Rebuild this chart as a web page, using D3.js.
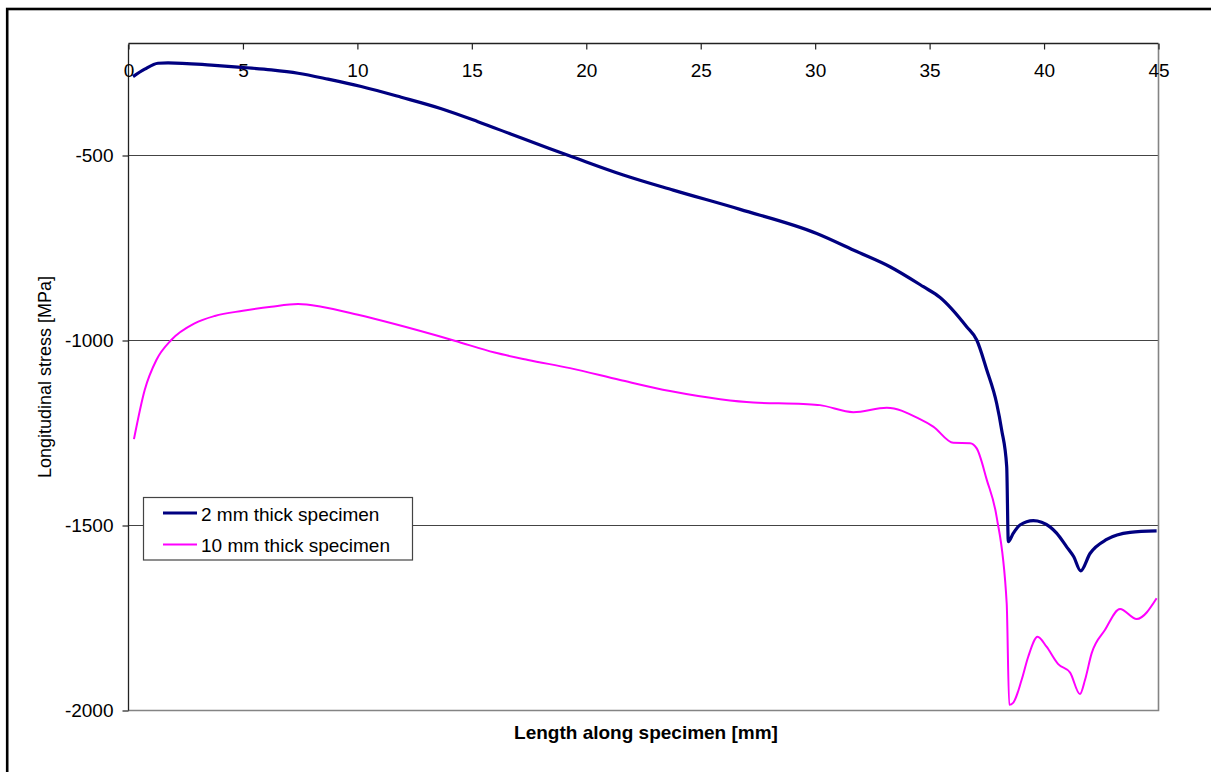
<!DOCTYPE html>
<html>
<head>
<meta charset="utf-8">
<script src="https://cdn.jsdelivr.net/npm/d3@7"></script>
<style>
  html, body { margin: 0; padding: 0; background: #fff; }
  svg { display: block; }
  text { font-family: "Liberation Sans", Arial, sans-serif; fill: #000; }
</style>
</head>
<body>
<svg id="chart" width="1211" height="772"></svg>
<script>
// Length along specimen [mm] and longitudinal stress [MPa]
const thin2mmX = [0.22, 0.73, 1.31, 1.75, 3.64, 4.95, 6.26, 7.43, 8.74, 10.19, 11.94, 13.69, 15.29, 16.75,
  18.35, 19.46, 21.64, 23.82, 26.74, 30.09, 31.84, 33.29, 34.75, 35.48, 36.64, 37.08, 37.52,
  37.95, 38.17, 38.39, 38.46, 38.68, 38.97, 39.55, 40.28, 40.57, 41.01, 41.32, 41.62, 42.03, 42.76, 43.78, 44.94];
const thin2mmY = [-288, -268, -252, -251, -257, -263, -270, -279, -295, -315, -344, -375, -410, -444,
  -481, -506, -554, -595, -647, -712, -761, -802, -856, -885, -964, -1000, -1081,
  -1171, -1243, -1342, -1545, -1522, -1500, -1488, -1505, -1522, -1559, -1586, -1624, -1577, -1539, -1520, -1516];

const thick10mmX = [0.26, 0.73, 1.24, 1.89, 2.91, 3.79, 5.02, 6.26, 7.43, 8.45, 10.05, 11.65, 14.27, 16.02,
  17.48, 19.31, 21.5, 23.68, 25.87, 27.32, 29.5, 30.23, 31.69, 33.15, 34.6, 35.18, 36.06, 36.79,
  37.08, 37.52, 37.95, 38.39, 38.5, 38.68, 39.04, 39.33, 39.74, 40.13, 40.64, 41.16, 41.59, 41.81,
  42.1, 42.68, 43.34, 44.07, 44.94];
const thick10mmY = [-1268, -1135, -1054, -1000, -955, -935, -921, -910, -903, -910, -932, -957, -1002, -1034,
  -1054, -1076, -1108, -1138, -1160, -1169, -1173, -1176, -1195, -1183, -1214, -1234, -1278, -1279,
  -1293, -1378, -1478, -1712, -1986, -1980, -1919, -1856, -1802, -1829, -1876, -1899, -1957, -1919,
  -1847, -1784, -1727, -1754, -1698];

const seriesNames = ["2 mm thick specimen", "10 mm thick specimen"];
const xTicks = [0, 5, 10, 15, 20, 25, 30, 35, 40, 45];
const yTicks = [-500, -1000, -1500, -2000];

const svg = d3.select("#chart");

// outer chart frame
svg.append("rect")
  .attr("x", 7.2).attr("y", 9).attr("width", 1220).attr("height", 790)
  .attr("fill", "none").attr("stroke", "#000").attr("stroke-width", 2.6);

const plot = { left: 128, top: 44, right: 1158, bottom: 710 };
const x = d3.scaleLinear().domain([0, 45]).range([plot.left, plot.right]);
const y = d3.scaleLinear().domain([-2000, -200]).range([plot.bottom, plot.top]);

// plain hyphen-minus labels
const plainNumber = d => String(d);

// horizontal gridlines
svg.append("g")
  .selectAll("line")
  .data(yTicks.filter(d => d !== -2000))
  .join("line")
  .attr("x1", plot.left).attr("x2", plot.right)
  .attr("y1", d => y(d) + 0.5).attr("y2", d => y(d) + 0.5)
  .attr("stroke", "#444").attr("stroke-width", 1.2);

// plot-area border on the right and bottom
svg.append("path")
  .attr("d", `M${plot.right + 0.5},${plot.top}V${plot.bottom + 0.5}H${plot.left}`)
  .attr("fill", "none").attr("stroke", "#848484").attr("stroke-width", 1.6);

// y axis
const yAxis = svg.append("g")
  .attr("transform", `translate(${plot.left + 0.5},0.5)`)
  .call(d3.axisLeft(y).tickValues(yTicks).tickSize(6).tickPadding(9).tickFormat(plainNumber));
yAxis.select(".domain").attr("d", `M0,${plot.top}V${plot.bottom}`).attr("stroke", "#222").attr("stroke-width", 1.3);
yAxis.selectAll(".tick line").attr("stroke", "#222").attr("stroke-width", 1.2);
yAxis.selectAll(".tick text").style("font-size", "19px").attr("fill", "#000")
  .style("font-family", "'Liberation Sans', Arial, sans-serif");

// x axis along the top edge, ticks pointing into the plot
const xAxis = svg.append("g")
  .attr("transform", `translate(0.5,${plot.top - 0.5})`)
  .call(d3.axisBottom(x).tickValues(xTicks).tickSize(6).tickPadding(14).tickFormat(plainNumber));
xAxis.select(".domain").attr("d", `M${plot.left},0H${plot.right}`).attr("stroke", "#222").attr("stroke-width", 1.3);
xAxis.selectAll(".tick line").attr("stroke", "#222").attr("stroke-width", 1.2);
xAxis.selectAll(".tick text").style("font-size", "19px").attr("fill", "#000")
  .style("font-family", "'Liberation Sans', Arial, sans-serif");

// series lines
const line = d3.line().x(d => x(d[0])).y(d => y(d[1])).curve(d3.curveMonotoneX);
const thinPts = thin2mmX.map((v, i) => [v, thin2mmY[i]]);
const thickPts = thick10mmX.map((v, i) => [v, thick10mmY[i]]);

svg.append("path").datum(thickPts)
  .attr("d", line).attr("fill", "none")
  .attr("stroke", "#ff00ff").attr("stroke-width", 2).attr("stroke-linejoin", "round");
svg.append("path").datum(thinPts)
  .attr("d", line).attr("fill", "none")
  .attr("stroke", "#000080").attr("stroke-width", 3.2).attr("stroke-linejoin", "round");

// axis titles
svg.append("text")
  .attr("transform", "translate(50.5,377) rotate(-90)")
  .attr("text-anchor", "middle")
  .style("font-size", "18px")
  .text("Longitudinal stress [MPa]");
svg.append("text")
  .attr("x", 646).attr("y", 739)
  .attr("text-anchor", "middle")
  .style("font-size", "19px").style("font-weight", "bold")
  .text("Length along specimen [mm]");

// legend
const legend = svg.append("g");
legend.append("rect")
  .attr("x", 143.5).attr("y", 497.5).attr("width", 269).attr("height", 62.5)
  .attr("fill", "#fff").attr("stroke", "#444").attr("stroke-width", 1.2);
const legendColors = ["#000080", "#ff00ff"];
const legendWidths = [3.2, 2];
const legendRows = [513, 544.5];
seriesNames.forEach((name, i) => {
  legend.append("line")
    .attr("x1", 163).attr("x2", 197)
    .attr("y1", legendRows[i]).attr("y2", legendRows[i])
    .attr("stroke", legendColors[i]).attr("stroke-width", legendWidths[i]);
  legend.append("text")
    .attr("x", 201).attr("y", legendRows[i] + 7.5)
    .style("font-size", "19px")
    .text(name);
});
</script>
</body>
</html>
